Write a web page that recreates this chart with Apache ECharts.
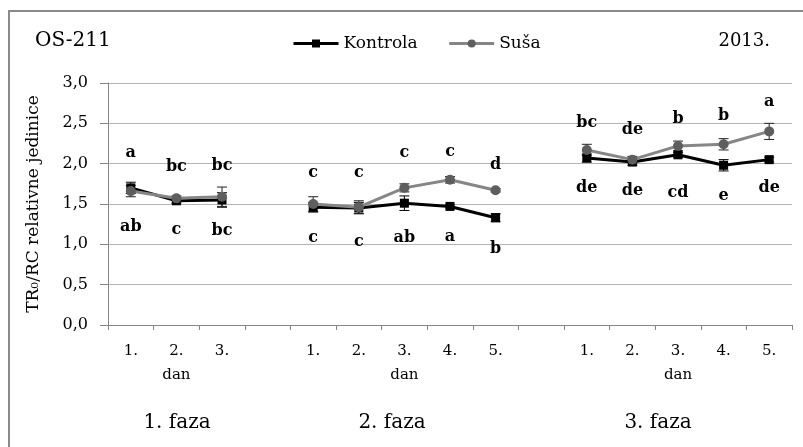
<!DOCTYPE html>
<html>
<head>
<meta charset="utf-8">
<script src="https://cdn.jsdelivr.net/npm/echarts@6/dist/echarts.min.js"></script>
<style>
  html, body { margin: 0; padding: 0; background: #fff; }
  #chart { width: 803px; height: 447px; }
</style>
</head>
<body>
<div id="chart"></div>
<script>
// Days of each phase; empty slots separate the three phases
const days = ['1.', '2.\ndan', '3.', '', '1.', '2.', '3.\ndan', '4.', '5.', '', '1.', '2.', '3.\ndan', '4.', '5.'];
const phases = ['1. faza', '2. faza', '3. faza'];

// TR0/RC means
const kontrola = [1.70, 1.54, 1.55, null, 1.46, 1.45, 1.51, 1.47, 1.33, null, 2.07, 2.02, 2.11, 1.98, 2.05];
const susa     = [1.66, 1.57, 1.59, null, 1.50, 1.46, 1.70, 1.80, 1.67, null, 2.17, 2.05, 2.22, 2.24, 2.40];

// Standard errors
const kontrolaErr = [0.07, 0.03, 0.09, null, 0.06, 0.07, 0.09, 0.02, 0.05, null, 0.05, 0.04, 0.03, 0.07, 0.03];
const susaErr     = [0.07, 0.03, 0.12, null, 0.09, 0.08, 0.05, 0.04, 0.02, null, 0.07, 0.04, 0.06, 0.07, 0.10];

// Significance letters
const kontrolaLetters = ['ab', 'c', 'bc', null, 'c', 'c', 'ab', 'a', 'b', null, 'de', 'de', 'cd', 'e', 'de'];
const susaLetters     = ['a', 'bc', 'bc', null, 'c', 'c', 'c', 'c', 'd', null, 'bc', 'de', 'b', 'b', 'a'];

// Y axis scale
const yMin = 0, yMax = 3, yStep = 0.5;

// Vertical offsets (px) of the letters from their points
const kontrolaLetterDy = [39, 29, 31, 0, 31, 34, 35, 30, 31, 0, 30, 29, 38, 31, 28];
const susaLetterDy     = [-38, -32, -31, 0, -31, -34, -35, -28, -25, 0, -27, -30, -27, -28, -30];

const FONT = 'DejaVu Serif';

function lineData(values, letters, dy) {
  return values.map((v, i) => ({
    value: v == null ? '-' : v,
    label: {
      show: !!letters[i],
      formatter: letters[i] || '',
      offset: [0, dy[i]]
    }
  }));
}

function errorBars(name, values, errs, color, z) {
  const data = [];
  values.forEach((v, i) => {
    if (v != null) data.push([i, v - errs[i], v + errs[i]]);
  });
  return {
    type: 'custom',
    name: name,
    silent: true,
    z: z,
    data: data,
    encode: { x: 0, y: [1, 2] },
    renderItem: function (params, api) {
      const i = api.value(0);
      const lo = api.coord([i, api.value(1)]);
      const hi = api.coord([i, api.value(2)]);
      const w = 5;
      const st = { stroke: color, lineWidth: 1 };
      return {
        type: 'group',
        children: [
          { type: 'line', shape: { x1: lo[0], y1: lo[1], x2: hi[0], y2: hi[1] }, style: st },
          { type: 'line', shape: { x1: lo[0] - w, y1: lo[1], x2: lo[0] + w, y2: lo[1] }, style: st },
          { type: 'line', shape: { x1: hi[0] - w, y1: hi[1], x2: hi[0] + w, y2: hi[1] }, style: st }
        ]
      };
    }
  };
}

const chart = echarts.init(document.getElementById('chart'), null, { renderer: 'canvas' });

const letterLabel = {
  show: true,
  position: 'inside',
  fontFamily: FONT,
  fontWeight: 'bold',
  fontSize: 16,
  color: '#000'
};

chart.setOption({
  animation: false,
  backgroundColor: '#fff',
  textStyle: { fontFamily: FONT },
  grid: { left: 108, right: 11, top: 83, bottom: 122, containLabel: false },
  legend: {
    data: ['Kontrola', 'Suša'],
    left: 292,
    top: 35,
    padding: 0,
    itemWidth: 45,
    itemHeight: 10,
    itemGap: 30,
    lineStyle: { width: 3 },
    textStyle: { fontFamily: FONT, fontSize: 17, color: '#000' }
  },
  graphic: [
    {
      type: 'rect', silent: true, z: -10,
      shape: { x: 9, y: 11, width: 900, height: 600 },
      style: { fill: 'none', stroke: '#8a8a8a', lineWidth: 2 }
    },
    {
      type: 'text', left: 35, top: 31,
      style: { text: 'OS-211', fontFamily: FONT, fontSize: 20, fill: '#000' }
    },
    {
      type: 'text', right: 33, top: 32,
      style: { text: '2013.', fontFamily: FONT, fontSize: 18, fill: '#000' }
    },
    {
      type: 'text', x: 177, y: 423,
      style: { text: phases[0], fontFamily: FONT, fontSize: 20, fill: '#000', align: 'center', verticalAlign: 'middle' }
    },
    {
      type: 'text', x: 392, y: 423,
      style: { text: phases[1], fontFamily: FONT, fontSize: 20, fill: '#000', align: 'center', verticalAlign: 'middle' }
    },
    {
      type: 'text', x: 658, y: 423,
      style: { text: phases[2], fontFamily: FONT, fontSize: 20, fill: '#000', align: 'center', verticalAlign: 'middle' }
    }
  ],
  xAxis: {
    type: 'category',
    data: days,
    boundaryGap: true,
    axisLine: { show: true, lineStyle: { color: '#868686', width: 1 } },
    axisTick: { show: true, interval: 0, length: 5, lineStyle: { color: '#868686' } },
    axisLabel: {
      interval: 0,
      margin: 14,
      fontFamily: FONT,
      fontSize: 15,
      lineHeight: 24,
      color: '#000'
    },
    splitLine: { show: false }
  },
  yAxis: {
    type: 'value',
    min: yMin,
    max: yMax,
    interval: yStep,
    name: 'TR₀/RC relativne jedinice',
    nameLocation: 'middle',
    nameRotate: 90,
    nameGap: 66,
    nameTextStyle: { fontFamily: FONT, fontSize: 17, color: '#000' },
    axisLine: { show: true, lineStyle: { color: '#868686', width: 1 } },
    axisTick: { show: true, length: 8, lineStyle: { color: '#868686' } },
    axisLabel: {
      margin: 20,
      fontFamily: FONT,
      fontSize: 16,
      color: '#000',
      formatter: v => v.toFixed(1).replace('.', ',')
    },
    splitLine: { show: true, lineStyle: { color: '#b4b4b4', width: 1 } }
  },
  series: [
    errorBars('Kontrola SE', kontrola, kontrolaErr, '#000', 1),
    errorBars('Suša SE', susa, susaErr, '#222', 2),
    {
      type: 'line',
      name: 'Kontrola',
      data: lineData(kontrola, kontrolaLetters, kontrolaLetterDy),
      symbol: 'rect',
      symbolSize: 9,
      showAllSymbol: true,
      connectNulls: false,
      lineStyle: { color: '#000', width: 3 },
      itemStyle: { color: '#000' },
      label: letterLabel,
      z: 3
    },
    {
      type: 'line',
      name: 'Suša',
      data: lineData(susa, susaLetters, susaLetterDy),
      symbol: 'circle',
      symbolSize: 10,
      showAllSymbol: true,
      connectNulls: false,
      lineStyle: { color: '#868686', width: 3 },
      itemStyle: { color: '#5e5e5e' },
      label: letterLabel,
      z: 4
    }
  ]
});
</script>
</body>
</html>
